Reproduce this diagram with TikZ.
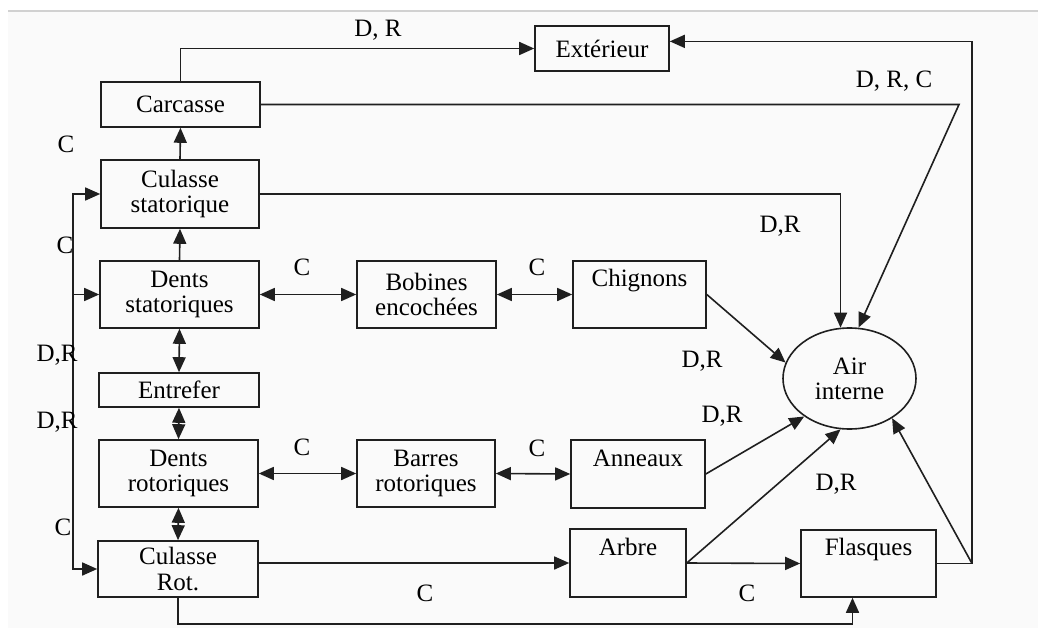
\documentclass[tikz,border=0pt]{standalone}
\usepackage{fontspec}
\setmainfont{Liberation Serif}
\usetikzlibrary{arrows.meta,shapes.geometric}
\begin{document}
\begin{tikzpicture}[x=1pt,y=-1pt,
  txt/.style={font=\fontsize{25}{25}\selectfont},
  box/.style={txt,draw=black!88,line width=1.6pt,rectangle,inner sep=0pt,align=center},
  lab/.style={txt,inner sep=0pt,text height=16pt,text depth=0pt},
  con/.style={draw=black!88,line width=1.6pt},
  arr/.style={con,-{Triangle[length=15pt,width=13pt]}},
  darr/.style={con,{Triangle[length=15pt,width=13pt]}-{Triangle[length=15pt,width=13pt]}}]
\useasboundingbox (0,0) rectangle (1038,628);
\fill[white] (0,0) rectangle (1038,628);
\fill[black!2] (8,11) rectangle (1038,628);
\draw[black!18,line width=2pt] (8,11) -- (1038,11);

% boxes
\node[box,minimum width=134pt,minimum height=45pt] (ext) at (602,48.5) {Extérieur};
\node[box,minimum width=159pt,minimum height=45pt] (carc) at (180.5,104.5) {Carcasse};
\node[box,minimum width=158pt,minimum height=68pt] (culs) at (180,194) {Culasse\\statorique};
\node[box,minimum width=159pt,minimum height=67pt] (dsta) at (179.5,294.5) {Dents\\statoriques};
\node[box,minimum width=139pt,minimum height=67pt] (bob) at (426.5,294.5) {Bobines\\encochées};
\node[box,minimum width=133pt,minimum height=67pt] (chig) at (639.5,294.5) {Chignons\\\strut};
\node[box,minimum width=160pt,minimum height=34pt] (entr) at (179,390) {Entrefer};
\node[box,minimum width=159pt,minimum height=67pt] (drot) at (178.5,473.5) {Dents\\rotoriques};
\node[box,minimum width=138pt,minimum height=67pt] (barr) at (426,473.5) {Barres\\rotoriques};
\node[box,minimum width=134pt,minimum height=68pt] (anne) at (638,474) {Anneaux\\\strut};
\node[box,minimum width=160pt,minimum height=56pt] (crot) at (178,569) {Culasse\\Rot.};
\node[box,minimum width=116pt,minimum height=68pt] (arbr) at (628,563) {Arbre\\\strut};
\node[box,minimum width=135pt,minimum height=67pt] (flas) at (868.5,563.5) {Flasques\\\strut};
\node[box,ellipse,minimum width=133pt,minimum height=101pt] (air) at (849.5,378.5) {Air\\interne};

% helper coordinates
\coordinate (L) at (73,0);
\coordinate (k1) at (959,104.5);
\coordinate (k2) at (972,563.5);

% connectors
\draw[arr] (carc.north) |- (ext.west);
\draw[arr] (culs.north) -- (carc.south);
\draw[arr] (dsta.north) -- (culs.south);
\draw[darr] (dsta.south) -- (entr.north);
\draw[darr] (entr.south) -- (drot.north);
\draw[darr] (drot.south) -- (crot.north);
\draw[darr] (dsta.east) -- (bob.west);
\draw[darr] (bob.east) -- (chig.west);
\draw[darr] (drot.east) -- (barr.west);
\draw[darr] (barr.east) -- (anne.west);
\draw[arr] (L |- crot.west) |- (culs.west);
\draw[arr] (L |- culs.west) |- (crot.west);
\draw[arr] (L |- dsta.west) -- (dsta.west);
\draw[arr] (carc.east) -- (k1) -- (air.80);
\draw[arr] (culs.east) -| (air.100);
\draw[arr] (chig.east) -- (air.166);
\draw[arr] (anne.east) -- (air.220);
\draw[arr] (crot.east |- arbr.west) -- (arbr.west);
\draw[arr] (arbr.east) -- (air.260);
\draw[arr] (arbr.east) -- (flas.west);
\draw[con] (flas.east) -- (k2);
\draw[arr] (k2) -- (air.317);
\draw[arr] (k2) |- (ext.6);
\draw[arr] (crot.south) -- ++(0,26) -| (flas.245);

% labels
\node[lab] (t1) at (378,29) {D, R};
\node[lab] (t2) at (894,80) {D, R, C};
\node[lab] (t3) at (66,145) {C};
\node[lab] (t4) at (65,246) {C};
\node[lab] (t5) at (302,268) {C};
\node[lab] (t6) at (537,268) {C};
\node[lab] (t7) at (780,225) {D,R};
\node[lab] (t8) at (57,353) {D,R};
\node[lab] (t9) at (57,420) {D,R};
\node[lab] (t10) at (63,527) {C};
\node[lab] (t11) at (302,447) {C};
\node[lab] (t12) at (537,448) {C};
\node[lab] (t13) at (425,593) {C};
\node[lab] (t14) at (702,359) {D,R};
\node[lab] (t15) at (722,414) {D,R};
\node[lab] (t16) at (836,482) {D,R};
\node[lab] (t17) at (747,593) {C};
\end{tikzpicture}
\end{document}
